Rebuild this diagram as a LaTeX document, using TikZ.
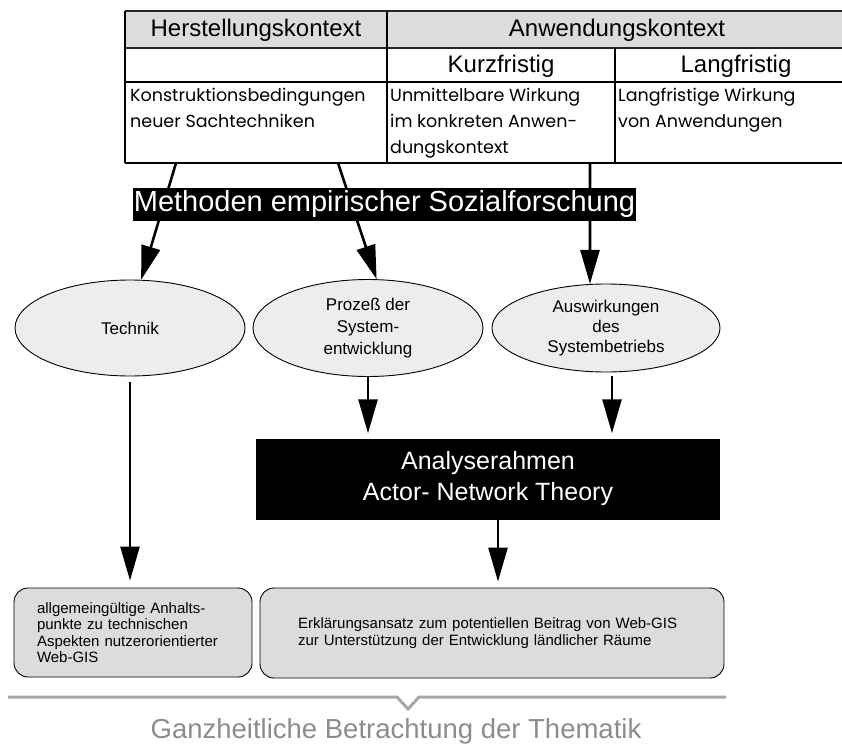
\documentclass[tikz,border=0pt]{standalone}
\usepackage{fontspec}
\setmainfont{Liberation Sans}
\newfontfamily\gothic{Poppins}
\usetikzlibrary{arrows.meta,shapes.geometric}

\definecolor{headgray}{HTML}{DCDCDC}
\definecolor{ovalgray}{HTML}{EDEDED}
\definecolor{boxgray}{HTML}{DCDCDC}
\definecolor{bracegray}{HTML}{A8A8A8}
\definecolor{captiongray}{HTML}{8C8C8C}

\tikzset{
  thinrule/.style={line width=1.2pt, draw=black!85},
  thickrule/.style={line width=2.6pt},
  headtext/.style={inner sep=0pt, font=\fontsize{24}{28}\selectfont},
  celltext/.style={inner sep=0pt, anchor=north west, align=left,
    font=\gothic\fontsize{17.5}{26}\selectfont},
  banner/.style={fill=black, text=white, inner sep=0pt,
    minimum width=503pt, minimum height=33pt,
    font=\fontsize{29}{33}\selectfont},
  oval/.style={ellipse, draw, line width=0.9pt, fill=ovalgray,
    minimum width=230pt, inner sep=0pt, align=center},
  framebox/.style={fill=black, text=white, align=center, inner sep=0pt,
    minimum width=464pt, minimum height=81pt,
    font=\fontsize{25}{31}\selectfont},
  result/.style={draw, line width=0.9pt, fill=boxgray, rounded corners=14pt,
    align=left, inner sep=0pt, font=\fontsize{15}{16.5}\selectfont},
  arr/.style={line width=2.6pt, -{Triangle[length=34pt,width=19pt]}},
}

\begin{document}
\begin{tikzpicture}[x=1pt,y=-1pt]
\useasboundingbox (0,0) rectangle (842,746);
\begin{scope}
\clip (0,0) rectangle (842,746);

% ---- context table ----
\fill[headgray] (125,11) rectangle (850,48);
\draw[thinrule] (125,11) -- (850,11);
\draw[thinrule] (125,48) -- (850,48);
\draw[thickrule] (125,82) -- (850,82);
\draw[thickrule] (125,163) -- (850,163);
\draw[thickrule] (125,11) -- (125,163);
\draw[thickrule] (387,11) -- (387,163);
\draw[thickrule] (615,48) -- (615,163);

\node[headtext] (hers) at (256,30) {Herstellungskontext};
\node[headtext] (anw)  at (617,30) {Anwendungskontext};
\node[headtext] (kurz) at (501,66) {Kurzfristig};
\node[headtext] (lang) at (736,66) {Langfristig};

\node[celltext] (c1) at (130,88) {Konstruktionsbedingungen\\neuer Sachtechniken};
\node[celltext] (c2) at (390,88) {Unmittelbare Wirkung\\im konkreten Anwen-\\dungskontext};
\node[celltext] (c3) at (618,88) {Langfristige Wirkung\\von Anwendungen};
\end{scope}

% anchor points on the lower table edge
\coordinate (h1) at (176,163);
\coordinate (h2) at (338,163);
\coordinate (k1) at (590,163);

% ---- focus ovals ----
\node[oval, minimum height=96pt, font=\fontsize{17}{22}\selectfont]
  (tech) at (130,328) {Technik};
\node[oval, minimum height=97pt, font=\fontsize{17}{22}\selectfont]
  (proz) at (368,328) {Prozeß der\\System-\\entwicklung};
\node[oval, minimum width=228pt, minimum height=88pt, font=\fontsize{17}{20}\selectfont]
  (ausw) at (606,328) {Auswirkungen\\des\\Systembetriebs};

% arrows from the table through the method banner
\draw[arr] (h1) -- (tech.77);
\draw[arr] (h2) -- (proz.80);
\draw[arr] (k1) -- (ausw.110);

\node[banner] (meth) at (384.5,204.5) {Methoden empirischer Sozialforschung};

% ---- analysis frame ----
\node[framebox] (ana) at (488,479) {Analyserahmen\\Actor- Network Theory};

% ---- results ----
\node[result, minimum width=238pt, minimum height=89pt, text width=192pt]
  (res1) at (133,632.5)
  {allgemeingültige Anhalts-\\punkte zu technischen\\Aspekten nutzerorientierter\\Web-GIS};
\node[result, minimum width=464pt, minimum height=90pt, text width=388pt]
  (res2) at (492,633)
  {Erklärungsansatz zum potentiellen Beitrag von Web-GIS\\zur Unterstützung der Entwicklung ländlicher Räume};

\draw[arr, shorten <=6pt, shorten >=7pt] (tech.south) -- (tech.south |- res1.north);
\draw[arr, shorten >=5pt] (proz.south) -- (proz.south |- ana.north);
\draw[arr, shorten <=4pt, shorten >=5pt] ([xshift=6pt]ausw.south) -- ([xshift=6pt]ausw.south |- ana.north);
\draw[arr, shorten >=6pt] ([xshift=10pt]ana.south) -- ([xshift=10pt]ana.south |- res2.north);

% ---- overall bracket and caption ----
\coordinate (bl) at (8,697);
\coordinate (br) at (726,697);
\coordinate (vl) at (397,697);
\coordinate (vb) at (408,709);
\coordinate (vr) at (419,697);
\draw[bracegray, line width=3pt] (bl) -- (vl) -- (vb) -- (vr) -- (br);
\node[text=captiongray, inner sep=0pt, anchor=base, font=\fontsize{27.5}{30}\selectfont]
  (cap) at (396,738) {Ganzheitliche Betrachtung der Thematik};
\end{tikzpicture}
\end{document}
